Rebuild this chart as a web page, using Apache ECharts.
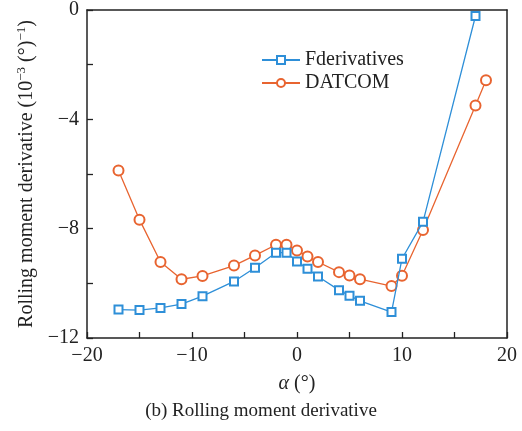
<!DOCTYPE html>
<html>
<head>
<meta charset="utf-8">
<script src="https://cdn.jsdelivr.net/npm/echarts@6/dist/echarts.min.js"></script>
<style>html,body{margin:0;padding:0;background:#fff;}#c{width:522px;height:431px;}</style>
</head>
<body>
<div id="c"></div>
<script>
var xTicks = [-20, -10, 0, 10, 20];
var yTicks = [-12, -8, -4, 0];
var fderAlpha = [-17, -15, -13, -11, -9, -6, -4, -2, -1, 0, 1, 2, 4, 5, 6, 9, 10, 12, 17];
var fderValues = [-10.96, -10.98, -10.9, -10.76, -10.47, -9.93, -9.43, -8.88, -8.88, -9.2, -9.47, -9.75, -10.25, -10.45, -10.64, -11.05, -9.1, -7.75, -0.22];
var datcomAlpha = [-17, -15, -13, -11, -9, -6, -4, -2, -1, 0, 1, 2, 4, 5, 6, 9, 10, 12, 17, 18];
var datcomValues = [-5.87, -7.67, -9.22, -9.85, -9.73, -9.35, -8.98, -8.59, -8.59, -8.8, -9.02, -9.22, -9.59, -9.71, -9.85, -10.1, -9.72, -8.05, -3.49, -2.57];

function pairs(xs, ys) { return xs.map(function (x, i) { return [x, ys[i]]; }); }
function minus(v) { return v < 0 ? '\u2212' + Math.abs(v) : String(v); }

var serif = "'Liberation Serif', 'DejaVu Serif', serif";
var ink = '#222';
var chart = echarts.init(document.getElementById('c'), null, { renderer: 'canvas' });
var lineStyleAxis = { color: ink, width: 1.5 };
function mainAxis(extra) {
  return Object.assign({
    type: 'value',
    axisLine: { show: true, onZero: false, lineStyle: lineStyleAxis },
    axisTick: { show: true, inside: true, length: 6, lineStyle: { color: ink, width: 1.3 } },
    minorTick: { show: true, splitNumber: 2, length: 6, lineStyle: { color: ink, width: 1.3 } },
    splitLine: { show: false },
    axisLabel: { color: ink, fontFamily: serif, fontSize: 20, formatter: minus }
  }, extra);
}
function frameAxis(extra) {
  return Object.assign({
    type: 'value',
    axisLine: { show: true, onZero: false, lineStyle: lineStyleAxis },
    axisTick: { show: false },
    axisLabel: { show: false },
    splitLine: { show: false }
  }, extra);
}
chart.setOption({
  animation: false,
  backgroundColor: '#fff',
  title: {
    text: '(b) Rolling moment derivative',
    left: 'center',
    top: 397,
    textStyle: { fontFamily: serif, fontSize: 19, fontWeight: 'normal', color: ink }
  },
  legend: {
    orient: 'vertical',
    left: 261,
    top: 50,
    padding: 0,
    itemWidth: 38,
    itemHeight: 10,
    itemGap: 3,
    textStyle: { fontFamily: serif, fontSize: 20, color: ink },
    data: ['Fderivatives', 'DATCOM']
  },
  grid: { left: 87, right: 15, top: 8, bottom: 93 },
  xAxis: [
    mainAxis({
      min: xTicks[0], max: xTicks[xTicks.length - 1], interval: 10,
      name: '{i|α} (°)', nameLocation: 'middle', nameGap: 36,
      nameTextStyle: { fontFamily: serif, fontSize: 20, color: ink,
        rich: { i: { fontFamily: serif, fontSize: 20, fontStyle: 'italic', color: ink } } }
    }),
    frameAxis({ position: 'top', min: xTicks[0], max: xTicks[xTicks.length - 1] })
  ],
  yAxis: [
    mainAxis({
      min: yTicks[0], max: yTicks[yTicks.length - 1], interval: 4,
      name: 'Rolling moment derivative (10{s|\u22123} (°){s|\u22121})', nameLocation: 'middle', nameGap: 47,
      nameTextStyle: { fontFamily: serif, fontSize: 20, color: ink,
        rich: { s: { fontFamily: serif, fontSize: 13, color: ink, verticalAlign: 'top', lineHeight: 24 } } }
    }),
    frameAxis({ position: 'right', min: yTicks[0], max: yTicks[yTicks.length - 1] })
  ],
  series: [
    {
      name: 'Fderivatives', type: 'line', data: pairs(fderAlpha, fderValues),
      symbol: 'emptyRect', symbolSize: 8,
      lineStyle: { color: '#2E8FD8', width: 1.3 },
      itemStyle: { color: '#2E8FD8', borderColor: '#2E8FD8', borderWidth: 1.3 },
      z: 3
    },
    {
      name: 'DATCOM', type: 'line', data: pairs(datcomAlpha, datcomValues),
      symbol: 'emptyCircle', symbolSize: 10,
      lineStyle: { color: '#E86430', width: 1.3 },
      itemStyle: { color: '#E86430', borderColor: '#E86430', borderWidth: 1.3 },
      z: 2
    }
  ]
});
</script>
</body>
</html>
